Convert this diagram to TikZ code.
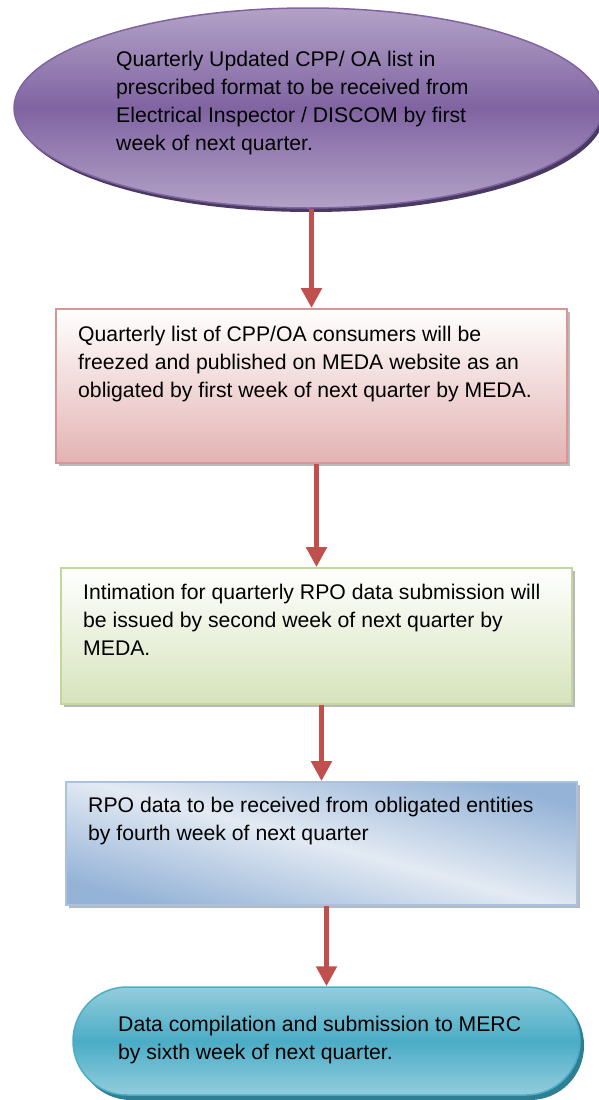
\documentclass[tikz,border=0pt]{standalone}
\usepackage{fontspec}
\setmainfont{Liberation Sans}
\usetikzlibrary{shapes.geometric,arrows.meta}
\definecolor{purpA}{HTML}{8064A2}
\definecolor{purpB}{HTML}{B3A2C7}
\definecolor{purpS}{HTML}{4A3A63}
\definecolor{redA}{HTML}{C0504D}
\definecolor{pinkB}{HTML}{E3B3B2}
\definecolor{pinkE}{HTML}{D99694}
\definecolor{greenB}{HTML}{D6E3BC}
\definecolor{greenE}{HTML}{C3D69B}
\definecolor{blueA}{HTML}{95B3D7}
\definecolor{blueL}{HTML}{E3EAF3}
\definecolor{tealA}{HTML}{4BACC6}
\definecolor{tealB}{HTML}{93CDDD}
\definecolor{tealS}{HTML}{2E7F94}
\newcommand{\firstline}{\rule{0pt}{16pt}}
\tikzset{
  txt/.style={anchor=north west, align=left, inner sep=0pt, font=\fontsize{21.2}{28}\selectfont},
  flow/.style={draw=redA, line width=5pt, -{Triangle[width=20pt,length=20pt]}},
  boxshadow/.style={fill=gray!55, draw=none},
  stepbox/.style={rectangle, line width=1.8pt, inner sep=0pt}
}
\begin{document}
\begin{tikzpicture}[x=1pt,y=-1pt]
\useasboundingbox (0,0) rectangle (598,1100);
% ellipse
\fill[purpS] (311,112) ellipse [x radius=294, y radius=100];
\node[ellipse, minimum width=588, minimum height=200, inner sep=0pt, draw=purpA, line width=1.5pt,
      top color=purpB, bottom color=purpB, middle color=purpA] (n1) at (308,108) {};
\node[txt] (t1) at (116,50.7) {\firstline Quarterly Updated CPP/ OA list in\\prescribed format to be received from\\Electrical Inspector / DISCOM by first\\week of next quarter.};
% box 1
\fill[boxshadow] (59,312) rectangle (570,466);
\node[stepbox, minimum width=511, minimum height=154, draw=pinkE, top color=white, bottom color=pinkB] (b1) at (311.5,386) {};
\node[txt] (t2) at (78,325.7) {\firstline Quarterly list of CPP/OA consumers will be\\freezed and published on MEDA website as an\\obligated by first week of next quarter by MEDA.};
% box 2
\fill[boxshadow] (64,571) rectangle (575,707);
\node[stepbox, minimum width=511, minimum height=136, draw=greenE, top color=white, bottom color=greenB] (b2) at (316.5,636) {};
\node[txt] (t3) at (83,583) {\firstline Intimation for quarterly RPO data submission will\\be issued by second week of next quarter by\\MEDA.};
% box 3
\fill[boxshadow] (69,785) rectangle (580,908);
\node[stepbox, minimum width=511, minimum height=123, draw=blueA!80, top color=blueA, bottom color=blueA, middle color=blueL, shading angle=-15] (b3) at (321.5,843.5) {};
\node[txt] (t4) at (88,796.3) {\firstline RPO data to be received from obligated entities\\by fourth week of next quarter};
% terminal
\fill[tealS, rounded corners=54] (77,991) rectangle (584,1100);
\node[rectangle, rounded corners=54, minimum width=507, minimum height=108, inner sep=0pt, draw=tealA, line width=1.5pt,
      top color=tealB, bottom color=tealB, middle color=tealA] (n5) at (326.5,1041) {};
\node[txt] (t5) at (118,1015.7) {\firstline Data compilation and submission to MERC\\by sixth week of next quarter.};
% connectors
\draw[flow] (n1.south -| b1.north) -- (b1.north);
\draw[flow] (b1.south -| b2.north) -- (b2.north);
\draw[flow] (b2.south -| b3.north) -- (b3.north);
\draw[flow] (b3.south -| n5.north) -- (n5.north);
\end{tikzpicture}
\end{document}
